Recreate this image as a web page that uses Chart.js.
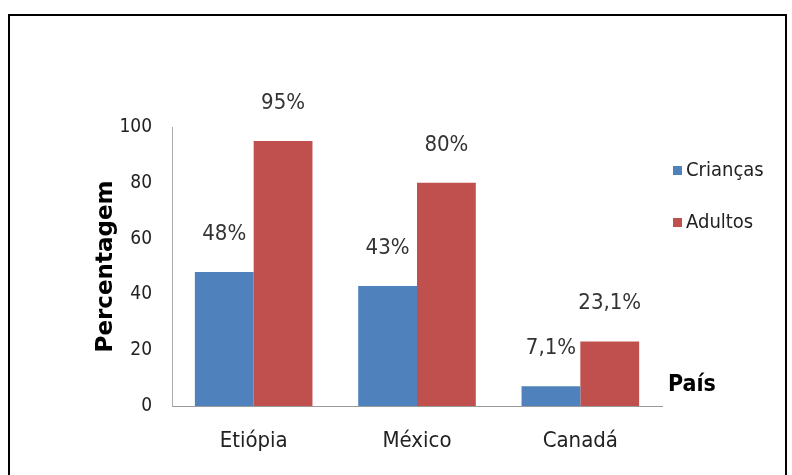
<!DOCTYPE html>
<html>
<head>
<meta charset="utf-8">
<script src="https://cdn.jsdelivr.net/npm/chart.js@4.4.0/dist/chart.umd.min.js"></script>
<style>
  html, body { margin: 0; padding: 0; background: #fff; }
  #wrap { position: relative; width: 792px; height: 475px; overflow: hidden; }
  #frame { position: absolute; left: 8px; top: 14px; width: 779px; height: 480px; border: 2px solid #000; box-sizing: border-box; pointer-events: none; }
  canvas { position: absolute; left: 0; top: 0; }
</style>
</head>
<body>
<div id="wrap">
  <canvas id="chart" width="792" height="475"></canvas>
  <div id="frame"></div>
</div>
<script>
const paises = ['Etiópia', 'México', 'Canadá'];
const criancas = [48, 43, 7.1];
const adultos = [95, 80, 23.1];
const rotCriancas = ['48%', '43%', '7,1%'];
const rotAdultos = ['95%', '80%', '23,1%'];
const yTicks = [0, 20, 40, 60, 80, 100];

const FONT = "'DejaVu Sans Condensed', 'DejaVu Sans', sans-serif";

// rótulos, título do eixo, "País" e legenda
const extras = {
  id: 'extras',
  afterDatasetsDraw(chart) {
    const ctx = chart.ctx;
    const area = chart.chartArea;
    const labels = [rotCriancas, rotAdultos];
    ctx.save();
    ctx.fillStyle = '#333';
    ctx.font = '22px ' + FONT;
    ctx.textAlign = 'center';
    ctx.textBaseline = 'middle';
    chart.data.datasets.forEach((ds, i) => {
      chart.getDatasetMeta(i).data.forEach((bar, j) => {
        ctx.fillText(labels[i][j], bar.x, bar.y - 38);
      });
    });

    // Percentagem
    ctx.save();
    ctx.translate(106, (area.top + area.bottom) / 2);
    ctx.rotate(-Math.PI / 2);
    ctx.font = "bold 23px 'DejaVu Sans', sans-serif";
    ctx.fillStyle = '#000';
    ctx.fillText('Percentagem', 0, 0);
    ctx.restore();

    // País
    ctx.font = 'bold 23px ' + FONT;
    ctx.fillStyle = '#000';
    ctx.textAlign = 'left';
    ctx.fillText('País', area.right + 6, area.bottom - 21);

    // legenda
    ctx.font = '20px ' + FONT;
    chart.data.datasets.forEach((ds, i) => {
      const y = 171 + i * 52;
      ctx.fillStyle = ds.backgroundColor;
      ctx.fillRect(673, y - 5, 9, 9);
      ctx.fillStyle = '#222';
      ctx.fillText(ds.label, 686, y);
    });
    ctx.restore();
  }
};

new Chart(document.getElementById('chart'), {
  type: 'bar',
  data: {
    labels: paises,
    datasets: [
      { label: 'Crianças', data: criancas, backgroundColor: '#4F81BD' },
      { label: 'Adultos', data: adultos, backgroundColor: '#C0504D' }
    ]
  },
  options: {
    responsive: false,
    animation: false,
    layout: { padding: { top: 127, right: 130, left: 0, bottom: 0 } },
    plugins: { legend: { display: false }, tooltip: { enabled: false } },
    datasets: { bar: { categoryPercentage: 0.72, barPercentage: 1 } },
    scales: {
      x: {
        grid: { display: false, drawTicks: false },
        border: { color: '#999', width: 1 },
        ticks: { color: '#222', font: { family: FONT, size: 22 }, padding: 22 },
        afterFit(s) { s.height = 69; }
      },
      y: {
        min: 0, max: 100,
        afterBuildTicks(s) { s.ticks = yTicks.map(v => ({ value: v })); },
        grid: { display: false, drawTicks: false },
        border: { color: '#aaa', width: 1 },
        ticks: { color: '#222', font: { family: FONT, size: 19 }, padding: 20 },
        afterFit(s) { s.width = 172; }
      }
    }
  },
  plugins: [extras]
});
</script>
</body>
</html>
